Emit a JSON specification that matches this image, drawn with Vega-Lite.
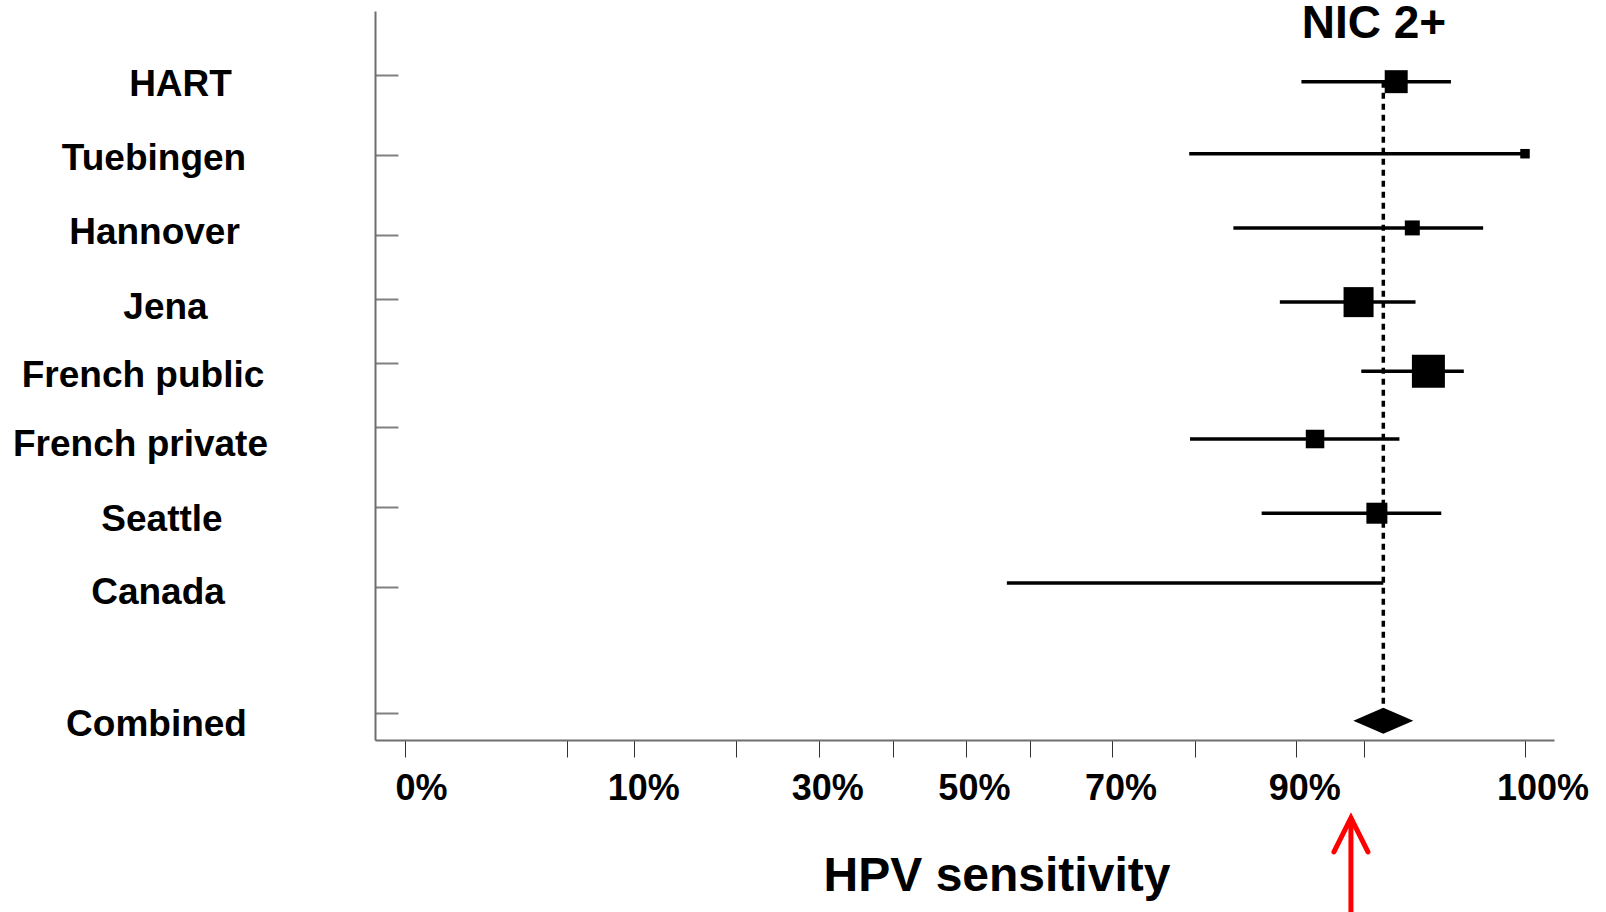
{
  "$schema": "https://vega.github.io/schema/vega-lite/v6.json",
  "width": 1179,
  "height": 729,
  "autosize": {"type": "none"},
  "padding": {"left": 375, "top": 11, "right": 52, "bottom": 172},
  "background": "white",
  "config": {"view": {"stroke": null}, "font": "Liberation Sans"},
  "layer": [
    {
      "data": {
        "values": [
          {"study": "HART", "row": 1, "est": 96.0, "lo": 90.4, "hi": 97.7, "weight": 14.6},
          {"study": "Tuebingen", "row": 2, "est": 100, "lo": 79.3, "hi": 100, "weight": 2.5},
          {"study": "Hannover", "row": 3.03, "est": 96.5, "lo": 83.8, "hi": 98.7, "weight": 6.2},
          {"study": "Jena", "row": 4.06, "est": 94.6, "lo": 88.4, "hi": 96.6, "weight": 24.9},
          {"study": "French public", "row": 5.02, "est": 97.0, "lo": 94.8, "hi": 98.1, "weight": 30.1},
          {"study": "French private", "row": 5.96, "est": 91.4, "lo": 79.4, "hi": 96.1, "weight": 9.5},
          {"study": "Seattle", "row": 6.99, "est": 95.4, "lo": 86.6, "hi": 97.4, "weight": 12.2},
          {"study": "Canada", "row": 7.96, "est": null, "lo": 56.4, "hi": 95.6, "weight": null}
        ]
      },
      "mark": {"type": "rule", "strokeWidth": 3.5, "color": "black"},
      "encoding": {
        "x": {
          "field": "lo", "type": "quantitative",
          "scale": {"domain": [-0.93, 0, 5, 10, 20, 30, 40, 50, 60, 70, 80, 90, 95, 100, 100.9], "range": [0, 30, 191.7, 259.3, 361, 444, 517.7, 590.7, 655, 737.3, 820, 921, 989, 1150, 1179], "zero": false, "nice": false},
          "axis": {
            "orient": "bottom",
            "values": [0, 5, 10, 20, 30, 40, 50, 60, 70, 80, 90, 95, 100],
            "labelExpr": "indexof([0,10,30,50,70,90,100], datum.value) >= 0 ? datum.value + '%' : ''",
            "labelOffset": {"expr": "datum.value == 0 ? 16 : datum.value == 10 ? 9 : datum.value == 100 ? 17.5 : 8.2"},
            "labelAlign": "center",
            "labelBaseline": "alphabetic",
            "labelPadding": 42,
            "labelFont": "Liberation Sans",
            "labelFontSize": 36,
            "labelFontWeight": "bold",
            "labelColor": "black",
            "labelOverlap": false,
            "labelFlush": false,
            "labelBound": false,
            "tickSize": 17,
            "tickWidth": 1,
            "tickColor": "#333333",
            "domainColor": "#6e6e6e",
            "domainWidth": 2,
            "grid": false,
            "title": "HPV sensitivity",
            "titleFont": "Liberation Sans",
            "titleFontSize": 48,
            "titleFontWeight": "bold",
            "titleColor": "black",
            "titleX": 621.5,
            "titleY": 150,
            "titleAlign": "center",
            "titleBaseline": "alphabetic"
          }
        },
        "x2": {"field": "hi"},
        "y": {
          "field": "row", "type": "quantitative",
          "scale": {"domain": [0.019, 10.138], "range": [0, 729], "zero": false, "nice": false},
          "axis": {
            "orient": "left",
            "values": [0.907, 2.018, 3.128, 4.017, 4.905, 5.793, 6.904, 8.015, 9.764],
            "labelExpr": "datum.value < 1.5 ? 'HART' : datum.value < 2.5 ? 'Tuebingen' : datum.value < 3.5 ? 'Hannover' : datum.value < 4.4 ? 'Jena' : datum.value < 5.3 ? 'French public' : datum.value < 6.3 ? 'French private' : datum.value < 7.5 ? 'Seattle' : datum.value < 9 ? 'Canada' : 'Combined'",
            "labelOffset": {"expr": "datum.value < 1.5 ? 21 : datum.value < 2.5 ? 14.5 : datum.value < 3.5 ? 9 : datum.value < 4.4 ? 19 : datum.value < 5.3 ? 23.5 : datum.value < 6.3 ? 28.5 : datum.value < 7.5 ? 23.5 : datum.value < 9 ? 16.5 : 22.5"},
            "labelPadding": {"expr": "datum.value < 1.5 ? 218 : datum.value < 2.5 ? 244.5 : datum.value < 3.5 ? 244 : datum.value < 4.4 ? 233 : datum.value < 5.3 ? 255.5 : datum.value < 6.3 ? 258 : datum.value < 7.5 ? 236.5 : datum.value < 9 ? 240.5 : 242"},
            "labelAlign": "center",
            "labelBaseline": "alphabetic",
            "labelFont": "Liberation Sans",
            "labelFontSize": 37,
            "labelFontWeight": "bold",
            "labelColor": "black",
            "labelLimit": 600,
            "labelOverlap": false,
            "labelFlush": false,
            "labelBound": false,
            "tickSize": -23,
            "tickWidth": 2,
            "tickColor": "#808080",
            "domainColor": "#6e6e6e",
            "domainWidth": 2,
            "grid": false,
            "title": null
          }
        }
      }
    },
    {
      "data": {"values": [{"pooled": 95.6, "first_row": 1, "combined_row": 9.87}]},
      "mark": {"type": "rule", "strokeWidth": 3.5, "color": "black", "strokeDash": [6, 5]},
      "encoding": {
        "x": {"field": "pooled", "type": "quantitative"},
        "y": {"field": "first_row", "type": "quantitative"},
        "y2": {"field": "combined_row"}
      }
    },
    {
      "data": {
        "values": [
          {"study": "HART", "row": 1, "est": 96.0, "weight": 14.6},
          {"study": "Tuebingen", "row": 2, "est": 100, "weight": 2.5},
          {"study": "Hannover", "row": 3.03, "est": 96.5, "weight": 6.2},
          {"study": "Jena", "row": 4.06, "est": 94.6, "weight": 24.9},
          {"study": "French public", "row": 5.02, "est": 97.0, "weight": 30.1},
          {"study": "French private", "row": 5.96, "est": 91.4, "weight": 9.5},
          {"study": "Seattle", "row": 6.99, "est": 95.4, "weight": 12.2}
        ]
      },
      "mark": {"type": "point", "shape": "square", "filled": true, "color": "black", "opacity": 1, "strokeWidth": 0},
      "encoding": {
        "x": {"field": "est", "type": "quantitative"},
        "y": {"field": "row", "type": "quantitative"},
        "size": {"field": "weight", "type": "quantitative", "scale": {"domain": [0, 100], "range": [0, 3616], "zero": true}, "legend": null}
      }
    },
    {
      "data": {"values": [{"study": "Combined", "row": 9.87, "est": 95.6}]},
      "mark": {"type": "point", "shape": "M-1,0L0,-0.433L1,0L0,0.433Z", "size": 3600, "filled": true, "color": "black", "opacity": 1, "strokeWidth": 0},
      "encoding": {
        "x": {"field": "est", "type": "quantitative"},
        "y": {"field": "row", "type": "quantitative"}
      }
    },
    {
      "data": {"values": [{"label": "NIC 2+", "x": 95.31, "row": 0.394}]},
      "mark": {"type": "text", "font": "Liberation Sans", "fontSize": 46, "fontWeight": "bold", "color": "black", "align": "center", "baseline": "alphabetic"},
      "encoding": {
        "x": {"field": "x", "type": "quantitative"},
        "y": {"field": "row", "type": "quantitative"},
        "text": {"field": "label"}
      }
    },
    {
      "data": {"values": [{"target": 94.04, "tip": 11.27, "tail": 12.8}]},
      "mark": {"type": "rule", "strokeWidth": 5, "color": "#ff0000"},
      "encoding": {
        "x": {"field": "target", "type": "quantitative"},
        "y": {"field": "tip", "type": "quantitative"},
        "y2": {"field": "tail"}
      }
    },
    {
      "data": {"values": [{"target": 94.04, "tip": 11.22}]},
      "mark": {"type": "point", "shape": "M-0.5,1L0,0L0.5,1", "size": 4624, "filled": false, "color": "#ff0000", "opacity": 1, "strokeWidth": 5, "strokeCap": "round", "strokeJoin": "miter"},
      "encoding": {
        "x": {"field": "target", "type": "quantitative"},
        "y": {"field": "tip", "type": "quantitative"}
      }
    }
  ]
}
